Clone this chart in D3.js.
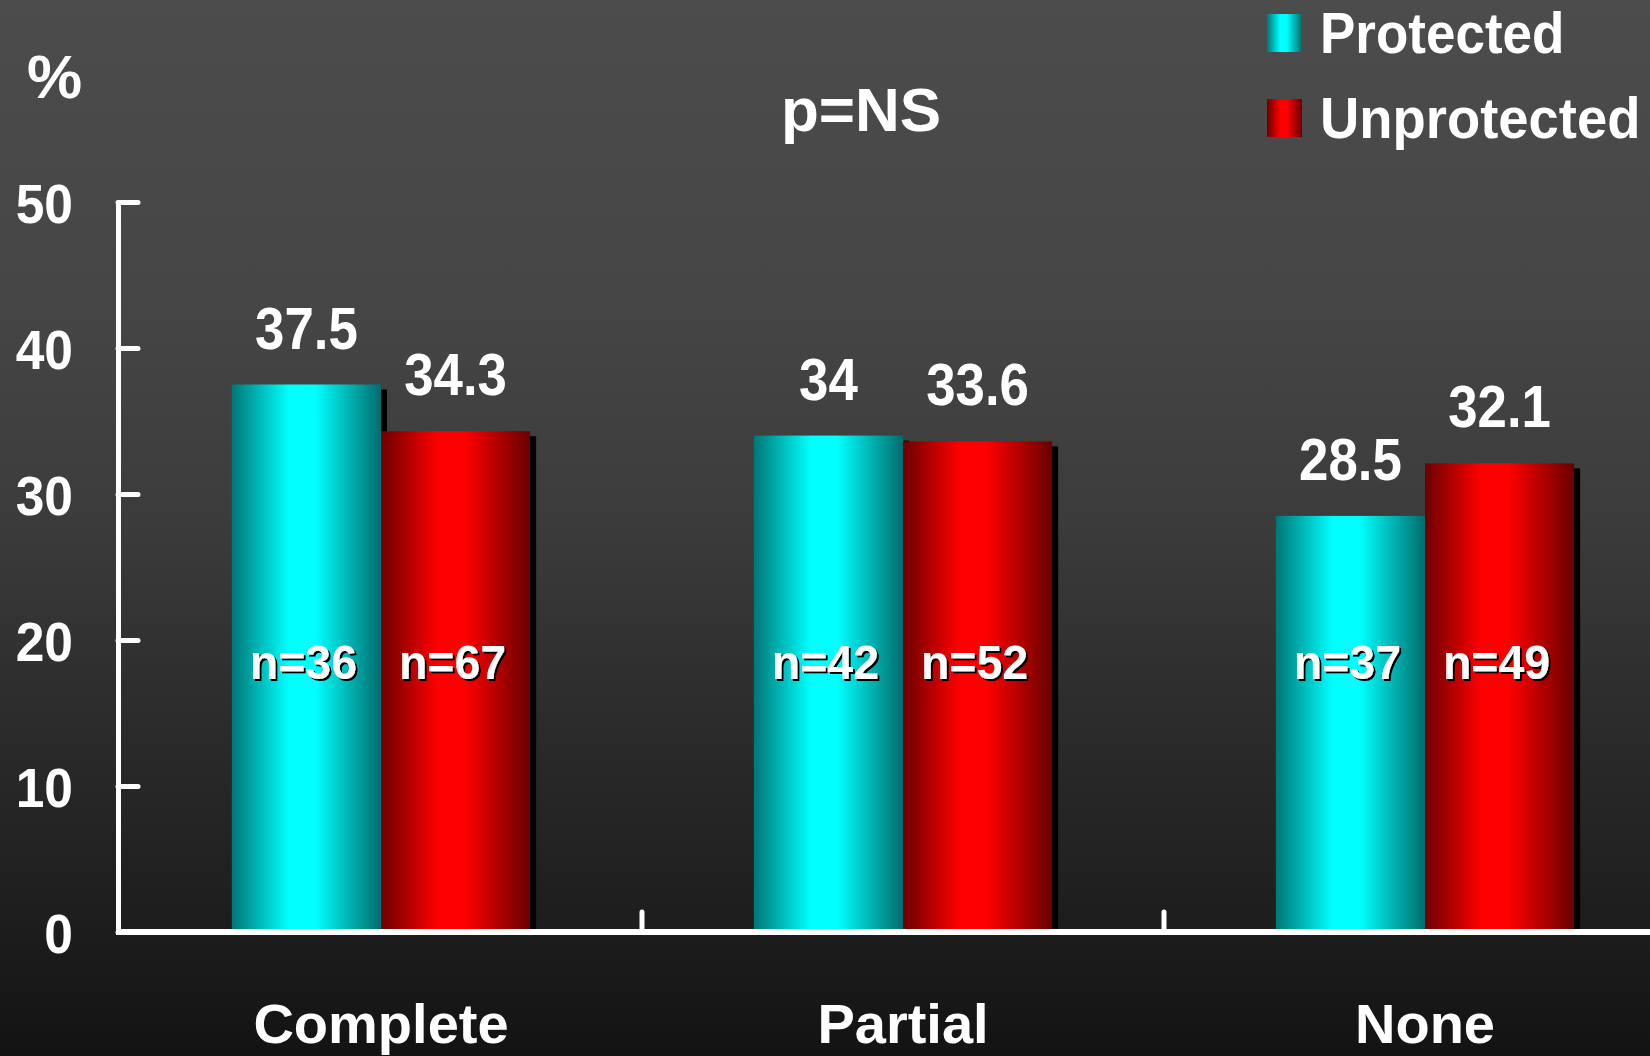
<!DOCTYPE html>
<html>
<head>
<meta charset="utf-8">
<script src="https://cdn.jsdelivr.net/npm/d3@7"></script>
<style>
  html, body { margin: 0; padding: 0; background: #141414; }
  svg { display: block; }
  text { font-family: "Liberation Sans", Arial, sans-serif; font-weight: bold; fill: #fff; }
</style>
</head>
<body>
<script>
// Event rates (%) by degree of protection, split by graft status
const categories = ["Complete", "Partial", "None"];
const series = ["Protected", "Unprotected"];
const protectedValues = [37.5, 34, 28.5];
const unprotectedValues = [34.3, 33.6, 32.1];
const protectedN = [36, 42, 37];
const unprotectedN = [67, 52, 49];
const yTicks = [0, 10, 20, 30, 40, 50];
const pValueText = "p=NS";

const W = 1650, H = 1056;
const axisX = 118;
const svg = d3.select("body").append("svg").attr("width", W).attr("height", H);
const defs = svg.append("defs");

// Background: dark vertical fade
const bg = defs.append("linearGradient").attr("id", "bg").attr("x1", 0).attr("y1", 0).attr("x2", 0).attr("y2", 1);
[[0, "#4c4c4c"], [0.3, "#454545"], [0.5, "#3b3b3b"], [0.65, "#2e2e2e"], [0.85, "#1f1f1f"], [1, "#131313"]]
  .forEach(([o, c]) => bg.append("stop").attr("offset", o).attr("stop-color", c));
svg.append("rect").attr("width", W).attr("height", H).attr("fill", "url(#bg)");

// Cylinder-like horizontal shading for the bars
function shade(id, edgeL, mid, edgeR) {
  const g = defs.append("linearGradient").attr("id", id).attr("x1", 0).attr("y1", 0).attr("x2", 1).attr("y2", 0);
  [[0, edgeL], [0.38, mid], [0.56, mid], [1, edgeR]]
    .forEach(([o, c]) => g.append("stop").attr("offset", o).attr("stop-color", c));
}
shade("gradProt", "#007676", "#00ffff", "#006c6c");
shade("gradUnprot", "#6c0000", "#ff0000", "#680000");
const fills = { Protected: "url(#gradProt)", Unprotected: "url(#gradUnprot)" };

const y = d3.scaleLinear().domain([0, 50]).range([932, 202]);
const x0 = d3.scaleBand().domain(categories).range([120, 1686]).padding(0);
const x1 = d3.scaleBand().domain(series).range([0, x0.bandwidth()]).paddingInner(0).paddingOuter(0.75);

const rows = [];
categories.forEach((c, i) => {
  rows.push({ cat: c, s: "Protected", v: protectedValues[i], n: protectedN[i] });
  rows.push({ cat: c, s: "Unprotected", v: unprotectedValues[i], n: unprotectedN[i] });
});
const bx = d => x0(d.cat) + x1(d.s);
const bw = x1.bandwidth();

// Drop shadows first, then bars on top
svg.append("g").selectAll("rect").data(rows).join("rect")
  .attr("x", d => bx(d) + 6).attr("y", d => y(d.v) + 5)
  .attr("width", bw).attr("height", d => y(0) - y(d.v) - 5)
  .attr("fill", "#000");
svg.append("g").selectAll("rect").data(rows).join("rect")
  .attr("x", bx).attr("y", d => y(d.v))
  .attr("width", bw).attr("height", d => y(0) - y(d.v))
  .attr("fill", d => fills[d.s]);

// Text helper with horizontal condensing
function label(g, x, yy, txt, size, sx, anchor) {
  return g.append("text")
    .attr("transform", `translate(${x},${yy}) scale(${sx},1)`)
    .attr("text-anchor", anchor || "middle")
    .style("font-size", size + "px")
    .text(txt);
}

// Value labels above bars
const vl = svg.append("g");
rows.forEach(d => label(vl, bx(d) + bw / 2, y(d.v) - 36, String(d.v), 60, 0.88));

// Sample sizes inside bars
const shadowF = defs.append("filter").attr("id", "ts").attr("x", "-10%").attr("y", "-10%").attr("width", "130%").attr("height", "130%");
shadowF.append("feDropShadow").attr("dx", 2).attr("dy", 2).attr("stdDeviation", 0.5).attr("flood-color", "#000").attr("flood-opacity", 1);
const nl = svg.append("g").attr("filter", "url(#ts)");
rows.forEach(d => label(nl, bx(d) + bw / 2 - 3, y(0) - 253, "n=" + d.n, 48, 0.97));

// Y axis: inward ticks, labels on the left
const yAxis = svg.append("g").attr("transform", `translate(${axisX},0)`)
  .call(d3.axisLeft(y).tickValues(yTicks).tickFormat(d3.format("d"))
    .tickSizeInner(-20).tickSizeOuter(0).tickPadding(45));
yAxis.select(".domain").attr("stroke", "#fff").attr("stroke-width", 5);
yAxis.selectAll(".tick line").attr("stroke", "#fff").attr("stroke-width", 5).attr("stroke-linecap", "round");
yAxis.selectAll(".tick text")
  .attr("x", null).attr("dy", "0.36em")
  .attr("transform", "translate(-45,0) scale(0.92,1)")
  .style("font-size", "56px").attr("fill", "#fff")
  .attr("font-family", null);

// X axis baseline with category labels
const xAxis = svg.append("g").attr("transform", `translate(0,${y(0)})`)
  .call(d3.axisBottom(x0).tickSize(0).tickPadding(71));
xAxis.select(".domain").remove();
xAxis.selectAll(".tick text").style("font-size", "56px").attr("fill", "#fff").attr("font-family", null);

svg.append("line")
  .attr("x1", axisX - 2).attr("x2", W)
  .attr("y1", y(0)).attr("y2", y(0))
  .attr("stroke", "#fff").attr("stroke-width", 6);
// Separators between category groups
svg.append("g").selectAll("line").data(categories.slice(1)).join("line")
  .attr("x1", d => x0(d)).attr("x2", d => x0(d))
  .attr("y1", y(0)).attr("y2", y(0) - 20)
  .attr("stroke", "#fff").attr("stroke-width", 5).attr("stroke-linecap", "round");

// Unit label and significance note
label(svg, 27, 98, "%", 62, 1, "start");
label(svg, 861, 131, pValueText, 62, 1);

// Legend
const legend = svg.append("g");
series.forEach((s, i) => {
  const ly = 14 + i * 85;
  legend.append("rect").attr("x", 1267).attr("y", ly).attr("width", 35).attr("height", 38).attr("fill", fills[s]);
  label(legend, 1320, ly + 39, s, 57, i === 0 ? 0.93 : 0.955, "start");
});
</script>
</body>
</html>
